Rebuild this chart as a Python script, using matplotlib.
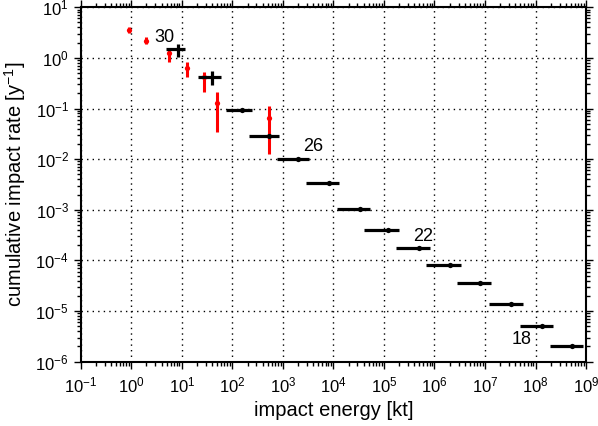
import matplotlib
matplotlib.use("Agg")
import matplotlib.pyplot as plt
import numpy as np
from matplotlib.ticker import LogLocator, NullFormatter

plt.rcParams['font.family'] = ['Liberation Sans', 'DejaVu Sans']
plt.rcParams['mathtext.fontset'] = 'custom'
plt.rcParams['mathtext.rm'] = 'Liberation Sans'
plt.rcParams['mathtext.it'] = 'Liberation Sans:italic'
plt.rcParams['mathtext.bf'] = 'Liberation Sans:bold'

# Red points (vertical uncertainty)
red_x = [0.9, 2.0, 5.7, 12.6, 27.6, 50.0, 543.0]
red_y = [3.6, 2.2, 1.27, 0.62, 0.42, 0.127, 0.064]
red_lo = [3.15, 1.86, 0.82, 0.42, 0.215, 0.035, 0.0124]
red_hi = [4.14, 2.62, 1.43, 0.84, 0.53, 0.215, 0.112]

# Black crosses (horizontal and vertical uncertainty)
cross_x = [8.45, 40.4]
cross_xlo = [4.89, 21.3]
cross_xhi = [11.6, 60.0]
cross_y = [1.48, 0.414]
cross_ylo = [1.03, 0.29]
cross_yhi = [1.86, 0.55]

# Black points (horizontal ranges)
blk_x = [158, 543, 2037, 8150, 32900, 1.18e5, 4.93e5, 1.99e6, 8.07e6, 3.32e7, 1.35e8, 5.28e8]
blk_xlo = [74.3, 218, 782, 2930, 1.17e4, 4.07e4, 1.70e5, 6.89e5, 2.79e6, 1.22e7, 5.0e7, 1.90e8]
blk_xhi = [243, 845, 3273, 1.32e4, 5.28e4, 2.01e5, 8.26e5, 3.29e6, 1.33e7, 5.56e7, 2.22e8, 8.73e8]
blk_y = [0.093, 0.0287, 0.0099, 3.42e-3, 1.05e-3, 3.97e-4, 1.73e-4, 7.96e-5, 3.5e-5, 1.35e-5, 5.0e-6, 2.05e-6]

# Labels
lab_text = ["30", "26", "22", "18"]
lab_x = [4.46, 4036, 6.08e5, 5.24e7]
lab_y = [2.53, 0.01774, 2.95e-4, 2.79e-6]

fig = plt.figure(figsize=(5.98, 4.26), dpi=100)
ax = fig.add_axes([0.135, 0.151, 0.845, 0.832])
ax.set_xscale('log')
ax.set_yscale('log')
ax.set_xlim(1e-1, 1e9)
ax.set_ylim(1e-6, 1e1)

ax.grid(True, which='major', color='black', linestyle=(0, (1, 3)), linewidth=1.0)
ax.set_axisbelow(True)

ry = np.array(red_y)
ax.errorbar(red_x, red_y, yerr=[ry - np.array(red_lo), np.array(red_hi) - ry],
            fmt='o', color='red', ms=3.8, mew=0, elinewidth=2.2, capsize=0, zorder=3)

cx = np.array(cross_x); cy = np.array(cross_y)
ax.errorbar(cross_x, cross_y,
            xerr=[cx - np.array(cross_xlo), np.array(cross_xhi) - cx],
            yerr=[cy - np.array(cross_ylo), np.array(cross_yhi) - cy],
            fmt='none', ecolor='black', elinewidth=2.3, capsize=0, zorder=4)

bx = np.array(blk_x)
ax.errorbar(blk_x, blk_y, xerr=[bx - np.array(blk_xlo), np.array(blk_xhi) - bx],
            fmt='o', color='black', ms=3.8, mew=0, elinewidth=2.3, capsize=0, zorder=4)

for t, x, y in zip(lab_text, lab_x, lab_y):
    ax.text(x, y, t, fontsize=13, ha='center', va='center', zorder=5)

ax.xaxis.set_major_locator(LogLocator(base=10, numticks=20))
ax.yaxis.set_major_locator(LogLocator(base=10, numticks=20))
ax.xaxis.set_minor_locator(LogLocator(base=10, subs=np.arange(2, 10), numticks=20))
ax.yaxis.set_minor_locator(LogLocator(base=10, subs=np.arange(2, 10), numticks=20))
ax.xaxis.set_minor_formatter(NullFormatter())
ax.yaxis.set_minor_formatter(NullFormatter())

ax.tick_params(which='both', direction='out', top=True, right=True, width=1.0, labelsize=12)
ax.tick_params(which='major', length=5)
ax.tick_params(which='minor', length=3)
ax.tick_params(axis='x', which='major', pad=5)
for s in ax.spines.values():
    s.set_linewidth(1.5)

ax.set_xlabel('impact energy [kt]', fontsize=14.5, labelpad=4)
ax.set_ylabel('cumulative impact rate [y$^{-1}$]', fontsize=14.5, labelpad=5)

fig.savefig('out.png', dpi=100)
